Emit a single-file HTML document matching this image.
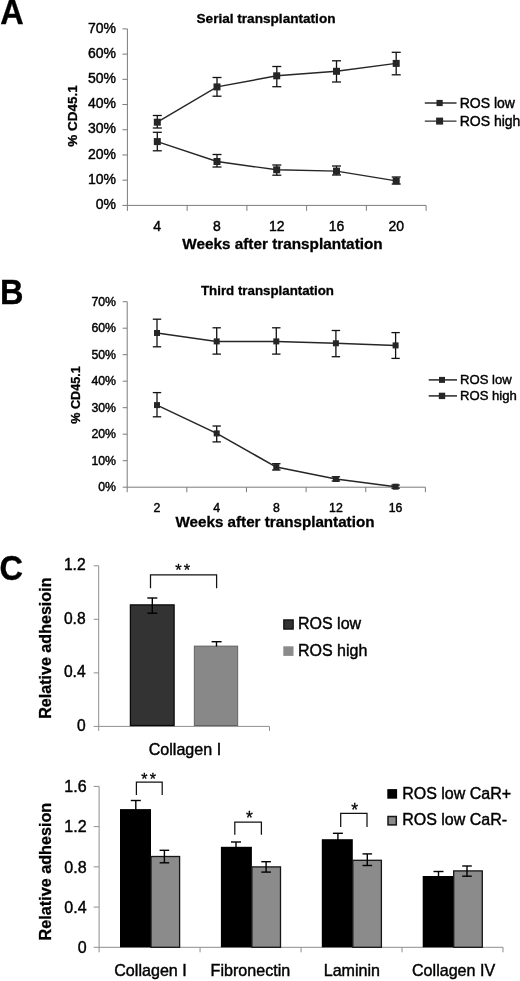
<!DOCTYPE html>
<html lang="en">
<head>
<meta charset="utf-8">
<title>Figure: ROS low vs ROS high transplantation and adhesion</title>
<style>
html,body{margin:0;padding:0;background:#fff;}
body{width:520px;height:981px;overflow:hidden;}
svg{display:block;will-change:transform;font-family:'Liberation Sans', Arial, sans-serif;}
</style>
</head>
<body>
<svg width="520" height="981" viewBox="0 0 520 981">
<rect x="0" y="0" width="520" height="981" fill="#ffffff"/>
<g id="panelA">
<line x1="127.4" y1="28.9" x2="127.4" y2="205.4" stroke="#7c7c7c" stroke-width="1"/>
<line x1="127.4" y1="205.4" x2="426.1" y2="205.4" stroke="#7c7c7c" stroke-width="1"/>
<line x1="122.4" y1="205.4" x2="127.4" y2="205.4" stroke="#7c7c7c" stroke-width="1"/>
<text x="116" y="209.0" font-size="14" font-weight="normal" text-anchor="end" fill="#000" stroke="#000" stroke-width="0.42">0%</text>
<line x1="122.4" y1="180.18571428571428" x2="127.4" y2="180.18571428571428" stroke="#7c7c7c" stroke-width="1"/>
<text x="116" y="183.79" font-size="14" font-weight="normal" text-anchor="end" fill="#000" stroke="#000" stroke-width="0.42">10%</text>
<line x1="122.4" y1="154.9714285714286" x2="127.4" y2="154.9714285714286" stroke="#7c7c7c" stroke-width="1"/>
<text x="116" y="158.57" font-size="14" font-weight="normal" text-anchor="end" fill="#000" stroke="#000" stroke-width="0.42">20%</text>
<line x1="122.4" y1="129.75714285714287" x2="127.4" y2="129.75714285714287" stroke="#7c7c7c" stroke-width="1"/>
<text x="116" y="133.36" font-size="14" font-weight="normal" text-anchor="end" fill="#000" stroke="#000" stroke-width="0.42">30%</text>
<line x1="122.4" y1="104.54285714285714" x2="127.4" y2="104.54285714285714" stroke="#7c7c7c" stroke-width="1"/>
<text x="116" y="108.14" font-size="14" font-weight="normal" text-anchor="end" fill="#000" stroke="#000" stroke-width="0.42">40%</text>
<line x1="122.4" y1="79.32857142857144" x2="127.4" y2="79.32857142857144" stroke="#7c7c7c" stroke-width="1"/>
<text x="116" y="82.93" font-size="14" font-weight="normal" text-anchor="end" fill="#000" stroke="#000" stroke-width="0.42">50%</text>
<line x1="122.4" y1="54.11428571428573" x2="127.4" y2="54.11428571428573" stroke="#7c7c7c" stroke-width="1"/>
<text x="116" y="57.71" font-size="14" font-weight="normal" text-anchor="end" fill="#000" stroke="#000" stroke-width="0.42">60%</text>
<line x1="122.4" y1="28.900000000000006" x2="127.4" y2="28.900000000000006" stroke="#7c7c7c" stroke-width="1"/>
<text x="116" y="32.5" font-size="14" font-weight="normal" text-anchor="end" fill="#000" stroke="#000" stroke-width="0.42">70%</text>
<line x1="127.4" y1="205.4" x2="127.4" y2="210.9" stroke="#7c7c7c" stroke-width="1"/>
<line x1="187.14000000000001" y1="205.4" x2="187.14000000000001" y2="210.9" stroke="#7c7c7c" stroke-width="1"/>
<line x1="246.88000000000002" y1="205.4" x2="246.88000000000002" y2="210.9" stroke="#7c7c7c" stroke-width="1"/>
<line x1="306.62" y1="205.4" x2="306.62" y2="210.9" stroke="#7c7c7c" stroke-width="1"/>
<line x1="366.36" y1="205.4" x2="366.36" y2="210.9" stroke="#7c7c7c" stroke-width="1"/>
<line x1="426.1" y1="205.4" x2="426.1" y2="210.9" stroke="#7c7c7c" stroke-width="1"/>
<text x="157.27" y="230.8" font-size="14" font-weight="normal" text-anchor="middle" fill="#000" stroke="#000" stroke-width="0.42">4</text>
<text x="217.01" y="230.8" font-size="14" font-weight="normal" text-anchor="middle" fill="#000" stroke="#000" stroke-width="0.42">8</text>
<text x="276.75" y="230.8" font-size="14" font-weight="normal" text-anchor="middle" fill="#000" stroke="#000" stroke-width="0.42">12</text>
<text x="336.49" y="230.8" font-size="14" font-weight="normal" text-anchor="middle" fill="#000" stroke="#000" stroke-width="0.42">16</text>
<text x="396.23" y="230.8" font-size="14" font-weight="normal" text-anchor="middle" fill="#000" stroke="#000" stroke-width="0.42">20</text>
<polyline points="157.3,122.2 217.0,86.9 276.8,75.8 336.5,71.3 396.2,63.4" fill="none" stroke="#262626" stroke-width="1.45"/>
<line x1="157.3" y1="115.5" x2="157.3" y2="128" stroke="#111" stroke-width="1.3"/>
<line x1="152.8" y1="115.5" x2="161.8" y2="115.5" stroke="#111" stroke-width="1.3"/>
<line x1="152.8" y1="128" x2="161.8" y2="128" stroke="#111" stroke-width="1.3"/>
<line x1="217.0" y1="77.5" x2="217.0" y2="96.2" stroke="#111" stroke-width="1.3"/>
<line x1="212.5" y1="77.5" x2="221.5" y2="77.5" stroke="#111" stroke-width="1.3"/>
<line x1="212.5" y1="96.2" x2="221.5" y2="96.2" stroke="#111" stroke-width="1.3"/>
<line x1="276.8" y1="66.5" x2="276.8" y2="86.7" stroke="#111" stroke-width="1.3"/>
<line x1="272.3" y1="66.5" x2="281.3" y2="66.5" stroke="#111" stroke-width="1.3"/>
<line x1="272.3" y1="86.7" x2="281.3" y2="86.7" stroke="#111" stroke-width="1.3"/>
<line x1="336.5" y1="60.8" x2="336.5" y2="82" stroke="#111" stroke-width="1.3"/>
<line x1="332.0" y1="60.8" x2="341.0" y2="60.8" stroke="#111" stroke-width="1.3"/>
<line x1="332.0" y1="82" x2="341.0" y2="82" stroke="#111" stroke-width="1.3"/>
<line x1="396.2" y1="52.3" x2="396.2" y2="74.8" stroke="#111" stroke-width="1.3"/>
<line x1="391.7" y1="52.3" x2="400.7" y2="52.3" stroke="#111" stroke-width="1.3"/>
<line x1="391.7" y1="74.8" x2="400.7" y2="74.8" stroke="#111" stroke-width="1.3"/>
<rect x="153.8" y="118.7" width="7" height="7" fill="#262626"/>
<rect x="213.5" y="83.4" width="7" height="7" fill="#262626"/>
<rect x="273.2" y="72.3" width="7" height="7" fill="#262626"/>
<rect x="333.0" y="67.8" width="7" height="7" fill="#262626"/>
<rect x="392.7" y="59.9" width="7" height="7" fill="#262626"/>
<polyline points="157.3,141.6 217.0,161.5 276.8,169.8 336.5,171.1 396.2,180.9" fill="none" stroke="#262626" stroke-width="1.45"/>
<line x1="157.3" y1="132.3" x2="157.3" y2="150.8" stroke="#111" stroke-width="1.3"/>
<line x1="152.8" y1="132.3" x2="161.8" y2="132.3" stroke="#111" stroke-width="1.3"/>
<line x1="152.8" y1="150.8" x2="161.8" y2="150.8" stroke="#111" stroke-width="1.3"/>
<line x1="217.0" y1="154.5" x2="217.0" y2="167" stroke="#111" stroke-width="1.3"/>
<line x1="212.5" y1="154.5" x2="221.5" y2="154.5" stroke="#111" stroke-width="1.3"/>
<line x1="212.5" y1="167" x2="221.5" y2="167" stroke="#111" stroke-width="1.3"/>
<line x1="276.8" y1="165" x2="276.8" y2="175.2" stroke="#111" stroke-width="1.3"/>
<line x1="272.3" y1="165" x2="281.3" y2="165" stroke="#111" stroke-width="1.3"/>
<line x1="272.3" y1="175.2" x2="281.3" y2="175.2" stroke="#111" stroke-width="1.3"/>
<line x1="336.5" y1="166" x2="336.5" y2="175" stroke="#111" stroke-width="1.3"/>
<line x1="332.0" y1="166" x2="341.0" y2="166" stroke="#111" stroke-width="1.3"/>
<line x1="332.0" y1="175" x2="341.0" y2="175" stroke="#111" stroke-width="1.3"/>
<line x1="396.2" y1="177" x2="396.2" y2="184" stroke="#111" stroke-width="1.3"/>
<line x1="391.7" y1="177" x2="400.7" y2="177" stroke="#111" stroke-width="1.3"/>
<line x1="391.7" y1="184" x2="400.7" y2="184" stroke="#111" stroke-width="1.3"/>
<rect x="153.8" y="138.1" width="7" height="7" fill="#262626"/>
<rect x="213.5" y="158.0" width="7" height="7" fill="#262626"/>
<rect x="273.2" y="166.3" width="7" height="7" fill="#262626"/>
<rect x="333.0" y="167.6" width="7" height="7" fill="#262626"/>
<rect x="392.7" y="177.4" width="7" height="7" fill="#262626"/>
<text x="266" y="23.2" font-size="13.6" font-weight="bold" text-anchor="middle" fill="#000" stroke="#000" stroke-width="0.3">Serial transplantation</text>
<text x="282.5" y="248.5" font-size="15.3" font-weight="bold" text-anchor="middle" fill="#000" stroke="#000" stroke-width="0.3">Weeks after transplantation</text>
<text x="76.6" y="116" font-size="13.5" font-weight="bold" text-anchor="middle" fill="#000" stroke="#000" stroke-width="0.3" transform="rotate(-90 76.6 116)">% CD45.1</text>
<line x1="424.8" y1="103.0" x2="456.5" y2="103.0" stroke="#2e2e2e" stroke-width="1.45"/>
<rect x="436.5" y="99.9" width="6.2" height="6.2" fill="#262626"/>
<text x="459.7" y="107.6" font-size="14" font-weight="normal" text-anchor="start" fill="#000" stroke="#000" stroke-width="0.42">ROS low</text>
<line x1="424.8" y1="121.1" x2="456.5" y2="121.1" stroke="#2e2e2e" stroke-width="1.45"/>
<rect x="436.1" y="117.6" width="7" height="7" fill="#262626"/>
<text x="459.7" y="125.7" font-size="14" font-weight="normal" text-anchor="start" fill="#000" stroke="#000" stroke-width="0.42">ROS high</text>
<text transform="translate(0.2 24.1) scale(1 1.07)" font-size="32.5" font-weight="bold" fill="#000" stroke="#000" stroke-width="0.3">A</text>
</g>
<g id="panelB">
<line x1="127.2" y1="301.7" x2="127.2" y2="487.2" stroke="#7c7c7c" stroke-width="1"/>
<line x1="127.2" y1="487.2" x2="425.4" y2="487.2" stroke="#7c7c7c" stroke-width="1"/>
<line x1="122.7" y1="487.2" x2="127.2" y2="487.2" stroke="#7c7c7c" stroke-width="1"/>
<text x="116" y="491.0" font-size="12.3" font-weight="normal" text-anchor="end" fill="#000" stroke="#000" stroke-width="0.42">0%</text>
<line x1="122.7" y1="460.7" x2="127.2" y2="460.7" stroke="#7c7c7c" stroke-width="1"/>
<text x="116" y="464.5" font-size="12.3" font-weight="normal" text-anchor="end" fill="#000" stroke="#000" stroke-width="0.42">10%</text>
<line x1="122.7" y1="434.2" x2="127.2" y2="434.2" stroke="#7c7c7c" stroke-width="1"/>
<text x="116" y="438.0" font-size="12.3" font-weight="normal" text-anchor="end" fill="#000" stroke="#000" stroke-width="0.42">20%</text>
<line x1="122.7" y1="407.7" x2="127.2" y2="407.7" stroke="#7c7c7c" stroke-width="1"/>
<text x="116" y="411.5" font-size="12.3" font-weight="normal" text-anchor="end" fill="#000" stroke="#000" stroke-width="0.42">30%</text>
<line x1="122.7" y1="381.2" x2="127.2" y2="381.2" stroke="#7c7c7c" stroke-width="1"/>
<text x="116" y="385.0" font-size="12.3" font-weight="normal" text-anchor="end" fill="#000" stroke="#000" stroke-width="0.42">40%</text>
<line x1="122.7" y1="354.7" x2="127.2" y2="354.7" stroke="#7c7c7c" stroke-width="1"/>
<text x="116" y="358.5" font-size="12.3" font-weight="normal" text-anchor="end" fill="#000" stroke="#000" stroke-width="0.42">50%</text>
<line x1="122.7" y1="328.2" x2="127.2" y2="328.2" stroke="#7c7c7c" stroke-width="1"/>
<text x="116" y="332.0" font-size="12.3" font-weight="normal" text-anchor="end" fill="#000" stroke="#000" stroke-width="0.42">60%</text>
<line x1="122.7" y1="301.7" x2="127.2" y2="301.7" stroke="#7c7c7c" stroke-width="1"/>
<text x="116" y="305.5" font-size="12.3" font-weight="normal" text-anchor="end" fill="#000" stroke="#000" stroke-width="0.42">70%</text>
<line x1="127.2" y1="487.2" x2="127.2" y2="492.2" stroke="#7c7c7c" stroke-width="1"/>
<line x1="186.84" y1="487.2" x2="186.84" y2="492.2" stroke="#7c7c7c" stroke-width="1"/>
<line x1="246.48000000000002" y1="487.2" x2="246.48000000000002" y2="492.2" stroke="#7c7c7c" stroke-width="1"/>
<line x1="306.12" y1="487.2" x2="306.12" y2="492.2" stroke="#7c7c7c" stroke-width="1"/>
<line x1="365.76" y1="487.2" x2="365.76" y2="492.2" stroke="#7c7c7c" stroke-width="1"/>
<line x1="425.4" y1="487.2" x2="425.4" y2="492.2" stroke="#7c7c7c" stroke-width="1"/>
<text x="157.02" y="511.6" font-size="12.3" font-weight="normal" text-anchor="middle" fill="#000" stroke="#000" stroke-width="0.42">2</text>
<text x="216.66" y="511.6" font-size="12.3" font-weight="normal" text-anchor="middle" fill="#000" stroke="#000" stroke-width="0.42">4</text>
<text x="276.3" y="511.6" font-size="12.3" font-weight="normal" text-anchor="middle" fill="#000" stroke="#000" stroke-width="0.42">8</text>
<text x="335.94" y="511.6" font-size="12.3" font-weight="normal" text-anchor="middle" fill="#000" stroke="#000" stroke-width="0.42">12</text>
<text x="395.58" y="511.6" font-size="12.3" font-weight="normal" text-anchor="middle" fill="#000" stroke="#000" stroke-width="0.42">16</text>
<polyline points="157.0,333.0 216.7,341.4 276.3,341.4 335.9,343.3 395.6,345.4" fill="none" stroke="#262626" stroke-width="1.55"/>
<line x1="157.0" y1="319.2" x2="157.0" y2="346.8" stroke="#111" stroke-width="1.3"/>
<line x1="152.8" y1="319.2" x2="161.2" y2="319.2" stroke="#111" stroke-width="1.3"/>
<line x1="152.8" y1="346.8" x2="161.2" y2="346.8" stroke="#111" stroke-width="1.3"/>
<line x1="216.7" y1="327.8" x2="216.7" y2="354.1" stroke="#111" stroke-width="1.3"/>
<line x1="212.5" y1="327.8" x2="220.89999999999998" y2="327.8" stroke="#111" stroke-width="1.3"/>
<line x1="212.5" y1="354.1" x2="220.89999999999998" y2="354.1" stroke="#111" stroke-width="1.3"/>
<line x1="276.3" y1="327.8" x2="276.3" y2="354.1" stroke="#111" stroke-width="1.3"/>
<line x1="272.1" y1="327.8" x2="280.5" y2="327.8" stroke="#111" stroke-width="1.3"/>
<line x1="272.1" y1="354.1" x2="280.5" y2="354.1" stroke="#111" stroke-width="1.3"/>
<line x1="335.9" y1="330.5" x2="335.9" y2="356.7" stroke="#111" stroke-width="1.3"/>
<line x1="331.7" y1="330.5" x2="340.09999999999997" y2="330.5" stroke="#111" stroke-width="1.3"/>
<line x1="331.7" y1="356.7" x2="340.09999999999997" y2="356.7" stroke="#111" stroke-width="1.3"/>
<line x1="395.6" y1="332.6" x2="395.6" y2="358.4" stroke="#111" stroke-width="1.3"/>
<line x1="391.40000000000003" y1="332.6" x2="399.8" y2="332.6" stroke="#111" stroke-width="1.3"/>
<line x1="391.40000000000003" y1="358.4" x2="399.8" y2="358.4" stroke="#111" stroke-width="1.3"/>
<rect x="154.0" y="330.0" width="6" height="6" fill="#262626"/>
<rect x="213.7" y="338.4" width="6" height="6" fill="#262626"/>
<rect x="273.3" y="338.4" width="6" height="6" fill="#262626"/>
<rect x="332.9" y="340.3" width="6" height="6" fill="#262626"/>
<rect x="392.6" y="342.4" width="6" height="6" fill="#262626"/>
<polyline points="157.0,405.1 216.7,433.4 276.3,467.1 335.9,479.0 395.6,486.7" fill="none" stroke="#262626" stroke-width="1.55"/>
<line x1="157.0" y1="392.6" x2="157.0" y2="416.8" stroke="#111" stroke-width="1.3"/>
<line x1="152.8" y1="392.6" x2="161.2" y2="392.6" stroke="#111" stroke-width="1.3"/>
<line x1="152.8" y1="416.8" x2="161.2" y2="416.8" stroke="#111" stroke-width="1.3"/>
<line x1="216.7" y1="426" x2="216.7" y2="441.9" stroke="#111" stroke-width="1.3"/>
<line x1="212.5" y1="426" x2="220.89999999999998" y2="426" stroke="#111" stroke-width="1.3"/>
<line x1="212.5" y1="441.9" x2="220.89999999999998" y2="441.9" stroke="#111" stroke-width="1.3"/>
<line x1="276.3" y1="463.7" x2="276.3" y2="470" stroke="#111" stroke-width="1.3"/>
<line x1="272.1" y1="463.7" x2="280.5" y2="463.7" stroke="#111" stroke-width="1.3"/>
<line x1="272.1" y1="470" x2="280.5" y2="470" stroke="#111" stroke-width="1.3"/>
<line x1="335.9" y1="476.8" x2="335.9" y2="481" stroke="#111" stroke-width="1.3"/>
<line x1="331.7" y1="476.8" x2="340.09999999999997" y2="476.8" stroke="#111" stroke-width="1.3"/>
<line x1="331.7" y1="481" x2="340.09999999999997" y2="481" stroke="#111" stroke-width="1.3"/>
<line x1="395.6" y1="485" x2="395.6" y2="488.2" stroke="#111" stroke-width="1.3"/>
<line x1="391.40000000000003" y1="485" x2="399.8" y2="485" stroke="#111" stroke-width="1.3"/>
<line x1="391.40000000000003" y1="488.2" x2="399.8" y2="488.2" stroke="#111" stroke-width="1.3"/>
<rect x="154.0" y="402.1" width="6" height="6" fill="#262626"/>
<rect x="213.7" y="430.4" width="6" height="6" fill="#262626"/>
<rect x="273.3" y="464.1" width="6" height="6" fill="#262626"/>
<rect x="332.9" y="476.0" width="6" height="6" fill="#262626"/>
<rect x="392.6" y="483.7" width="6" height="6" fill="#262626"/>
<text x="267.5" y="295" font-size="13.3" font-weight="bold" text-anchor="middle" fill="#000" stroke="#000" stroke-width="0.3">Third transplantation</text>
<text x="275" y="526.7" font-size="15.2" font-weight="bold" text-anchor="middle" fill="#000" stroke="#000" stroke-width="0.3">Weeks after transplantation</text>
<text x="80.4" y="395" font-size="12.6" font-weight="bold" text-anchor="middle" fill="#000" stroke="#000" stroke-width="0.3" transform="rotate(-90 80.4 395)">% CD45.1</text>
<line x1="428.7" y1="379.9" x2="457" y2="379.9" stroke="#2e2e2e" stroke-width="1.55"/>
<rect x="439.0" y="376.9" width="6" height="6" fill="#262626"/>
<text x="460" y="384.3" font-size="13.1" font-weight="normal" text-anchor="start" fill="#000" stroke="#000" stroke-width="0.42">ROS low</text>
<line x1="428.7" y1="395.9" x2="457" y2="395.9" stroke="#2e2e2e" stroke-width="1.55"/>
<rect x="438.8" y="392.7" width="6.4" height="6.4" fill="#262626"/>
<text x="460" y="400.3" font-size="13.1" font-weight="normal" text-anchor="start" fill="#000" stroke="#000" stroke-width="0.42">ROS high</text>
<text transform="translate(0.0 303.7) scale(1 1.07)" font-size="32.5" font-weight="bold" fill="#000" stroke="#000" stroke-width="0.3">B</text>
</g>
<g id="panelC1">
<text transform="translate(-0.5 580.4) scale(1 1.07)" font-size="32.5" font-weight="bold" fill="#000" stroke="#000" stroke-width="0.3">C</text>
<line x1="98.7" y1="565.8" x2="98.7" y2="726.4" stroke="#8e8e8e" stroke-width="1"/>
<line x1="98.7" y1="726.4" x2="269.5" y2="726.4" stroke="#8e8e8e" stroke-width="1"/>
<line x1="93.7" y1="726.4" x2="98.7" y2="726.4" stroke="#8e8e8e" stroke-width="1"/>
<text x="85.6" y="730.9" font-size="15.6" font-weight="normal" text-anchor="end" fill="#000" stroke="#000" stroke-width="0.42">0</text>
<line x1="93.7" y1="672.87" x2="98.7" y2="672.87" stroke="#8e8e8e" stroke-width="1"/>
<text x="85.6" y="677.37" font-size="15.6" font-weight="normal" text-anchor="end" fill="#000" stroke="#000" stroke-width="0.42">0.4</text>
<line x1="93.7" y1="619.33" x2="98.7" y2="619.33" stroke="#8e8e8e" stroke-width="1"/>
<text x="85.6" y="623.83" font-size="15.6" font-weight="normal" text-anchor="end" fill="#000" stroke="#000" stroke-width="0.42">0.8</text>
<line x1="93.7" y1="565.8" x2="98.7" y2="565.8" stroke="#8e8e8e" stroke-width="1"/>
<text x="85.6" y="570.3" font-size="15.6" font-weight="normal" text-anchor="end" fill="#000" stroke="#000" stroke-width="0.42">1.2</text>
<line x1="98.7" y1="726.4" x2="98.7" y2="730.9" stroke="#8e8e8e" stroke-width="1"/>
<line x1="269.5" y1="726.4" x2="269.5" y2="730.9" stroke="#8e8e8e" stroke-width="1"/>
<rect x="130.4" y="604.9" width="43.7" height="120.6" fill="#333333" stroke="#0a0a0a" stroke-width="1.3"/>
<rect x="194.3" y="646.1" width="43.4" height="79.4" fill="#888888" stroke="#5a5a5a" stroke-width="0.9"/>
<line x1="152.3" y1="598" x2="152.3" y2="613.2" stroke="#000" stroke-width="1.4"/>
<line x1="147.3" y1="598" x2="157.3" y2="598" stroke="#000" stroke-width="1.4"/>
<line x1="147.3" y1="613.2" x2="157.3" y2="613.2" stroke="#000" stroke-width="1.4"/>
<line x1="216.5" y1="641.7" x2="216.5" y2="646.5" stroke="#000" stroke-width="1.4"/>
<line x1="211.6" y1="641.7" x2="221.6" y2="641.7" stroke="#000" stroke-width="1.4"/>
<polyline points="150.5,588.3 150.5,574.8 216.6,574.8 216.6,588.3" fill="none" stroke="#111" stroke-width="1.25"/>
<text x="175.23" y="575.75" font-size="16.5" letter-spacing="2.0" fill="#000" stroke="#000" stroke-width="0.3">**</text>
<text x="184.9" y="754.7" font-size="16.1" font-weight="normal" text-anchor="middle" fill="#000" stroke="#000" stroke-width="0.42">Collagen I</text>
<text x="51.2" y="648.2" font-size="16.1" font-weight="bold" text-anchor="middle" fill="#000" stroke="#000" stroke-width="0.3" transform="rotate(-90 51.2 648.2)">Relative adhesioin</text>
<rect x="283.8" y="619.9" width="9.4" height="9.2" fill="#333" stroke="#0a0a0a" stroke-width="1.2"/>
<rect x="283.3" y="646.3" width="10.2" height="9.6" fill="#8b8b8b"/>
<text x="298" y="628.8" font-size="16" font-weight="normal" text-anchor="start" fill="#000" stroke="#000" stroke-width="0.42">ROS low</text>
<text x="298" y="655.8" font-size="16" font-weight="normal" text-anchor="start" fill="#000" stroke="#000" stroke-width="0.42">ROS high</text>
</g>
<g id="panelC2">
<line x1="99.1" y1="786.4" x2="99.1" y2="947.3" stroke="#8e8e8e" stroke-width="1"/>
<line x1="99.1" y1="947.3" x2="503" y2="947.3" stroke="#8e8e8e" stroke-width="1"/>
<line x1="93.6" y1="947.3" x2="99.1" y2="947.3" stroke="#8e8e8e" stroke-width="1"/>
<text x="86.6" y="953.0" font-size="16" font-weight="normal" text-anchor="end" fill="#000" stroke="#000" stroke-width="0.42">0</text>
<line x1="93.6" y1="907.07" x2="99.1" y2="907.07" stroke="#8e8e8e" stroke-width="1"/>
<text x="86.6" y="912.77" font-size="16" font-weight="normal" text-anchor="end" fill="#000" stroke="#000" stroke-width="0.42">0.4</text>
<line x1="93.6" y1="866.85" x2="99.1" y2="866.85" stroke="#8e8e8e" stroke-width="1"/>
<text x="86.6" y="872.55" font-size="16" font-weight="normal" text-anchor="end" fill="#000" stroke="#000" stroke-width="0.42">0.8</text>
<line x1="93.6" y1="826.62" x2="99.1" y2="826.62" stroke="#8e8e8e" stroke-width="1"/>
<text x="86.6" y="832.32" font-size="16" font-weight="normal" text-anchor="end" fill="#000" stroke="#000" stroke-width="0.42">1.2</text>
<line x1="93.6" y1="786.4" x2="99.1" y2="786.4" stroke="#8e8e8e" stroke-width="1"/>
<text x="86.6" y="792.1" font-size="16" font-weight="normal" text-anchor="end" fill="#000" stroke="#000" stroke-width="0.42">1.6</text>
<line x1="99.1" y1="947.3" x2="99.1" y2="952.3" stroke="#8e8e8e" stroke-width="1"/>
<line x1="200.07" y1="947.3" x2="200.07" y2="952.3" stroke="#8e8e8e" stroke-width="1"/>
<line x1="301.05" y1="947.3" x2="301.05" y2="952.3" stroke="#8e8e8e" stroke-width="1"/>
<line x1="402.02" y1="947.3" x2="402.02" y2="952.3" stroke="#8e8e8e" stroke-width="1"/>
<line x1="503.0" y1="947.3" x2="503.0" y2="952.3" stroke="#8e8e8e" stroke-width="1"/>
<rect x="120.0" y="809.1" width="31" height="138.2" fill="#000"/>
<rect x="151.0" y="856.5" width="28.6" height="90.8" fill="#8b8b8b" stroke="#161616" stroke-width="1.3"/>
<line x1="135.8" y1="800.5" x2="135.8" y2="811.1" stroke="#000" stroke-width="1.4"/>
<line x1="130.8" y1="800.5" x2="140.8" y2="800.5" stroke="#000" stroke-width="1.4"/>
<line x1="130.8" y1="811.1" x2="140.8" y2="811.1" stroke="#000" stroke-width="1.4"/>
<line x1="164.4" y1="850.3" x2="164.4" y2="862.8" stroke="#000" stroke-width="1.4"/>
<line x1="159.6" y1="850.3" x2="169.20000000000002" y2="850.3" stroke="#000" stroke-width="1.4"/>
<line x1="159.6" y1="862.8" x2="169.20000000000002" y2="862.8" stroke="#000" stroke-width="1.4"/>
<text x="150.5" y="976.4" font-size="16.1" font-weight="normal" text-anchor="middle" fill="#000" stroke="#000" stroke-width="0.42">Collagen I</text>
<rect x="220.9" y="846.8" width="31" height="100.5" fill="#000"/>
<rect x="251.9" y="866.9" width="28.6" height="80.4" fill="#8b8b8b" stroke="#161616" stroke-width="1.3"/>
<line x1="236.0" y1="842.0" x2="236.0" y2="848.8" stroke="#000" stroke-width="1.4"/>
<line x1="231.0" y1="842.0" x2="241.0" y2="842.0" stroke="#000" stroke-width="1.4"/>
<line x1="231.0" y1="848.8" x2="241.0" y2="848.8" stroke="#000" stroke-width="1.4"/>
<line x1="266.1" y1="861.7" x2="266.1" y2="872.1" stroke="#000" stroke-width="1.4"/>
<line x1="261.3" y1="861.7" x2="270.90000000000003" y2="861.7" stroke="#000" stroke-width="1.4"/>
<line x1="261.3" y1="872.1" x2="270.90000000000003" y2="872.1" stroke="#000" stroke-width="1.4"/>
<text x="250.4" y="976.4" font-size="16.1" font-weight="normal" text-anchor="middle" fill="#000" stroke="#000" stroke-width="0.42">Fibronectin</text>
<rect x="321.8" y="839.2" width="31" height="108.1" fill="#000"/>
<rect x="352.8" y="860.3" width="28.6" height="87.0" fill="#8b8b8b" stroke="#161616" stroke-width="1.3"/>
<line x1="337.9" y1="833.3" x2="337.9" y2="841.2" stroke="#000" stroke-width="1.4"/>
<line x1="332.9" y1="833.3" x2="342.9" y2="833.3" stroke="#000" stroke-width="1.4"/>
<line x1="332.9" y1="841.2" x2="342.9" y2="841.2" stroke="#000" stroke-width="1.4"/>
<line x1="367.3" y1="853.9" x2="367.3" y2="865.5" stroke="#000" stroke-width="1.4"/>
<line x1="362.5" y1="853.9" x2="372.1" y2="853.9" stroke="#000" stroke-width="1.4"/>
<line x1="362.5" y1="865.5" x2="372.1" y2="865.5" stroke="#000" stroke-width="1.4"/>
<text x="351.9" y="976.4" font-size="16.1" font-weight="normal" text-anchor="middle" fill="#000" stroke="#000" stroke-width="0.42">Laminin</text>
<rect x="422.7" y="876.0" width="31" height="71.3" fill="#000"/>
<rect x="453.7" y="870.9" width="28.6" height="76.4" fill="#8b8b8b" stroke="#161616" stroke-width="1.3"/>
<line x1="438.5" y1="871.5" x2="438.5" y2="878.0" stroke="#000" stroke-width="1.4"/>
<line x1="433.5" y1="871.5" x2="443.5" y2="871.5" stroke="#000" stroke-width="1.4"/>
<line x1="433.5" y1="878.0" x2="443.5" y2="878.0" stroke="#000" stroke-width="1.4"/>
<line x1="467.0" y1="866.0" x2="467.0" y2="876.2" stroke="#000" stroke-width="1.4"/>
<line x1="462.2" y1="866.0" x2="471.8" y2="866.0" stroke="#000" stroke-width="1.4"/>
<line x1="462.2" y1="876.2" x2="471.8" y2="876.2" stroke="#000" stroke-width="1.4"/>
<text x="453.6" y="976.4" font-size="16.1" font-weight="normal" text-anchor="middle" fill="#000" stroke="#000" stroke-width="0.42">Collagen IV</text>
<polyline points="136.4,794.9 136.4,782.1 162.2,782.1 162.2,794.9" fill="none" stroke="#111" stroke-width="1.25"/>
<text x="141.24" y="784.61" font-size="16" letter-spacing="2.2" fill="#000" stroke="#000" stroke-width="0.3">**</text>
<polyline points="234.8,834.7 234.8,822.0 261.4,822.0 261.4,834.7" fill="none" stroke="#111" stroke-width="1.25"/>
<text x="245.92" y="824.34" font-size="17.5" letter-spacing="0" fill="#000" stroke="#000" stroke-width="0.3">*</text>
<polyline points="340.7,827.0 340.7,813.4 367.0,813.4 367.0,827.0" fill="none" stroke="#111" stroke-width="1.25"/>
<text x="351.22" y="816.34" font-size="17.5" letter-spacing="0" fill="#000" stroke="#000" stroke-width="0.3">*</text>
<text x="51.5" y="871.6" font-size="16.2" font-weight="bold" text-anchor="middle" fill="#000" stroke="#000" stroke-width="0.3" transform="rotate(-90 51.5 871.6)">Relative adhesion</text>
<rect x="387.3" y="789.1" width="9.8" height="9.6" fill="#000"/>
<rect x="388.0" y="816.5" width="8.3" height="8.4" fill="#8b8b8b" stroke="#161616" stroke-width="1.5"/>
<text x="402.2" y="798.6" font-size="16" font-weight="normal" text-anchor="start" fill="#000" stroke="#000" stroke-width="0.42">ROS low CaR+</text>
<text x="402.2" y="825.4" font-size="16" font-weight="normal" text-anchor="start" fill="#000" stroke="#000" stroke-width="0.42">ROS low CaR-</text>
</g>
</svg>
</body>
</html>
